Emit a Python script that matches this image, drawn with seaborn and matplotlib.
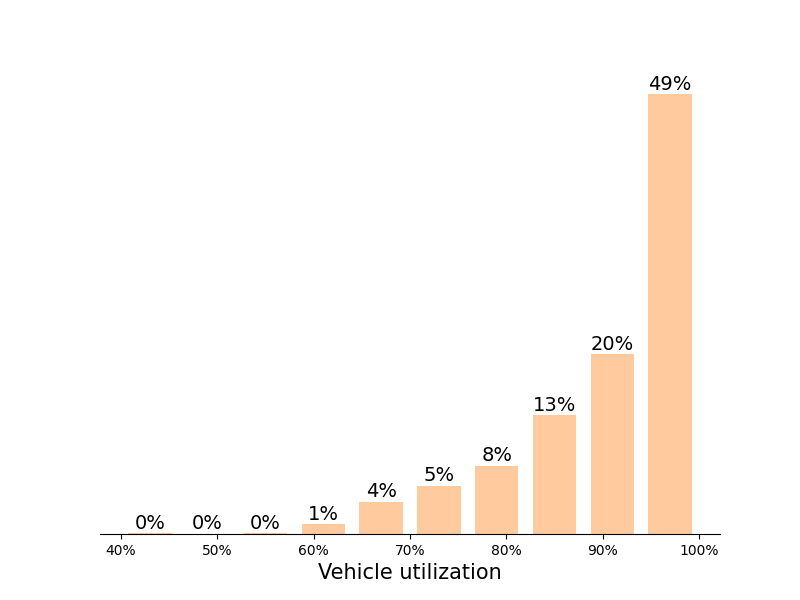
import numpy as np
import pandas as pd
import matplotlib
matplotlib.use("Agg")
import matplotlib.pyplot as plt
import seaborn as sns

# share of vehicles per utilization bin (40% .. 100%, 10 bins)
bins = [f"b{i}" for i in range(10)]
share = [0.1, 0.05, 0.1, 1.1, 3.6, 5.4, 7.6, 13.2, 20.0, 49.0]
tick_labels = ["40%", "50%", "60%", "70%", "80%", "90%", "100%"]

df = pd.DataFrame({"bin": bins, "share": share})

fig, ax = plt.subplots(figsize=(8, 6), dpi=100)
sns.barplot(data=df, x="bin", y="share", color="#ff7f0e", alpha=0.4,
            saturation=1, width=0.75, ax=ax)

for i, v in enumerate(share):
    ax.text(i, v + 0.03, f"{round(v):.0f}%", ha="center", va="bottom", fontsize=14)

ax.set_xticks(np.linspace(-0.5, 9.5, len(tick_labels)))
ax.set_xticklabels(tick_labels)
ax.set_xlim(-0.8625, 9.8625)
ax.set_ylim(0, max(share) * 1.05)
ax.set_yticks([])
ax.set_ylabel("")
ax.set_xlabel("Vehicle utilization", fontsize=15)
for s in ["top", "left", "right"]:
    ax.spines[s].set_visible(False)

plt.savefig("out.png")
